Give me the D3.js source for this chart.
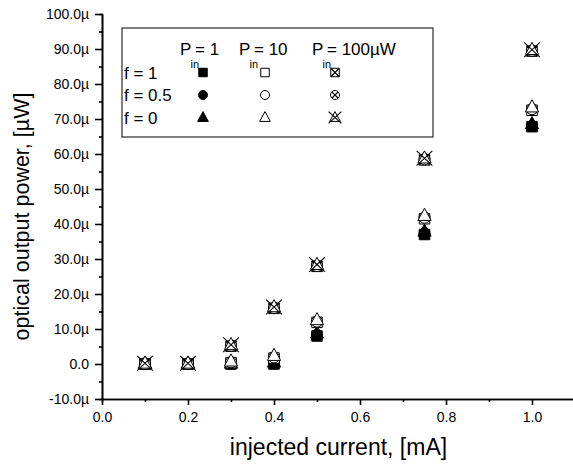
<!DOCTYPE html>
<html><head><meta charset="utf-8">
<script src="https://cdn.jsdelivr.net/npm/d3@7"></script>
<style>
body{margin:0;background:#fff;}
svg{display:block;font-family:"Liberation Sans",Arial,sans-serif;}
svg text{fill:#000;}
.axis path,.axis line{stroke:#000;stroke-width:1.6;}
.axis text{font-size:14px;fill:#000;}
</style></head><body><div id="chart"></div>
<script>
// injected current [mA]
var current=[0.1,0.2,0.3,0.4,0.5,0.75,1.0];
// optical output power [µW], Pin = 1 µW
var pin1_f1 =[0.0,0.0,0.0,0.0,8.0,37.0,67.8];
var pin1_f05=[0.0,0.0,0.0,0.2,8.3,37.3,68.0];
var pin1_f0 =[0.1,0.1,0.2,0.5,8.8,37.9,68.6];
// Pin = 10 µW
var pin10_f1 =[0.0,0.0,0.4,1.7,11.9,41.5,72.5];
var pin10_f05=[0.0,0.0,0.5,1.9,12.1,41.8,72.8];
var pin10_f0 =[0.2,0.2,0.8,2.4,12.6,42.4,73.4];
// Pin = 100 µW
var pin100_f1 =[0.0,0.0,5.1,15.9,27.9,58.3,89.4];
var pin100_f05=[0.0,0.0,5.2,16.0,28.0,58.5,89.5];
var pin100_f0 =[0.2,0.2,5.5,16.3,28.4,58.8,89.8];

var yTicks=[-10,0,10,20,30,40,50,60,70,80,90,100];
var yMinor=[-5,5,15,25,35,45,55,65,75,85,95];
var xTicks=[0,0.2,0.4,0.6,0.8,1.0];
var xMinor=[0.1,0.3,0.5,0.7,0.9];

var series=[
  {v:pin1_f1,shape:"square",style:"filled"},
  {v:pin1_f05,shape:"circle",style:"filled"},
  {v:pin1_f0,shape:"triangle",style:"filled"},
  {v:pin10_f1,shape:"square",style:"open"},
  {v:pin10_f05,shape:"circle",style:"open"},
  {v:pin10_f0,shape:"triangle",style:"open"},
  {v:pin100_f1,shape:"square",style:"crossed"},
  {v:pin100_f05,shape:"circle",style:"crossed"},
  {v:pin100_f0,shape:"triangle",style:"crossed"}
];

var W=573,H=464;
var svg=d3.select("#chart").append("svg").attr("width",W).attr("height",H);
svg.append("rect").attr("width",W).attr("height",H).attr("fill","#fff");

var x=d3.scaleLinear().domain([0,1.1]).range([102,575]);
var y=d3.scaleLinear().domain([-10,100]).range([399,14]);

// marker outline + extra lines, k = scale
function marker(g,shape,style,k){
    var p=d3.path(), extra=d3.path();
    if(shape==="square"){
        var s=5*k; p.rect(-s,-s,2*s,2*s);
        if(style==="crossed"){extra.moveTo(-s,-s);extra.lineTo(s,s);extra.moveTo(s,-s);extra.lineTo(-s,s);}
    }else if(shape==="circle"){
        var r=5.3*k; p.moveTo(r,0); p.arc(0,0,r,0,2*Math.PI);
        if(style==="crossed"){var c=r*0.72;extra.moveTo(-c,-c);extra.lineTo(c,c);extra.moveTo(c,-c);extra.lineTo(-c,c);}
    }else{
        p.moveTo(0,-7*k); p.lineTo(6.3*k,4.6*k); p.lineTo(-6.3*k,4.6*k); p.closePath();
        if(style==="crossed"){extra.moveTo(-7.5*k,-7*k);extra.lineTo(7.5*k,7*k);extra.moveTo(7.5*k,-7*k);extra.lineTo(-7.5*k,7*k);}
    }
    g.append("path").attr("d",p.toString())
        .attr("fill",style==="filled"?"#000":"#fff")
        .attr("stroke","#000").attr("stroke-width",1);
    if(style==="crossed") g.append("path").attr("d",extra.toString()).attr("fill","none").attr("stroke","#000").attr("stroke-width",1.1);
}

// axes
svg.append("g").attr("class","axis").attr("transform","translate(0,"+y(-10)+")")
    .call(d3.axisBottom(x).tickValues(xMinor).tickSize(3).tickFormat(""));
svg.append("g").attr("class","axis").attr("transform","translate(0,"+y(-10)+")")
    .call(d3.axisBottom(x).tickValues(xTicks).tickSize(6).tickSizeOuter(0).tickPadding(7).tickFormat(d3.format(".1f")));
svg.append("g").attr("class","axis").attr("transform","translate("+x(0)+",0)")
    .call(d3.axisLeft(y).tickValues(yMinor).tickSize(3).tickFormat(""));
svg.append("g").attr("class","axis").attr("transform","translate("+x(0)+",0)")
    .call(d3.axisLeft(y).tickValues(yTicks).tickSize(7).tickSizeOuter(0).tickPadding(6)
        .tickFormat(function(d){return d===0?"0.0":d.toFixed(1)+"\u00b5";}));

svg.append("text").attr("x",(x(0)+x(1.1))/2).attr("y",455).attr("text-anchor","middle")
    .attr("font-size",23).text("injected current, [mA]");
svg.append("text").attr("transform","translate(29,"+((y(-10)+y(100))/2+10)+") rotate(-90)")
    .attr("text-anchor","middle").attr("font-size",21.5).text("optical output power, [\u00b5W]");

// data markers
series.forEach(function(s){
    s.v.forEach(function(v,i){
        var g=svg.append("g").attr("transform","translate("+x(current[i])+","+y(v)+")");
        marker(g,s.shape,s.style,1.05);
    });
});

// legend
var lg=svg.append("g");
lg.append("rect").attr("x",122).attr("y",28).attr("width",311).attr("height",109)
    .attr("fill","#fff").attr("stroke","#000").attr("stroke-width",1);
var heads=["= 1","= 10","= 100\u00b5W"], headX=[180,239,312];
heads.forEach(function(h,i){
    lg.append("text").attr("x",headX[i]).attr("y",55).attr("font-size",17).text("P");
    lg.append("text").attr("x",headX[i]+10.5).attr("y",68).attr("font-size",11).text("in");
    lg.append("text").attr("x",headX[i]+15).attr("y",55).attr("font-size",17).text(h);
});
var rows=["f = 1","f = 0.5","f = 0"], rowY=[72.5,95,117.5];
var shapes=["square","circle","triangle"], styles=["filled","open","crossed"], colX=[203,265,335];
rows.forEach(function(r,j){
    lg.append("text").attr("x",124).attr("y",rowY[j]+6).attr("font-size",17).text(r);
    styles.forEach(function(st,i){
        var g=lg.append("g").attr("transform","translate("+colX[i]+","+rowY[j]+")");
        marker(g,shapes[j],st,0.85);
    });
});
</script></body></html>
